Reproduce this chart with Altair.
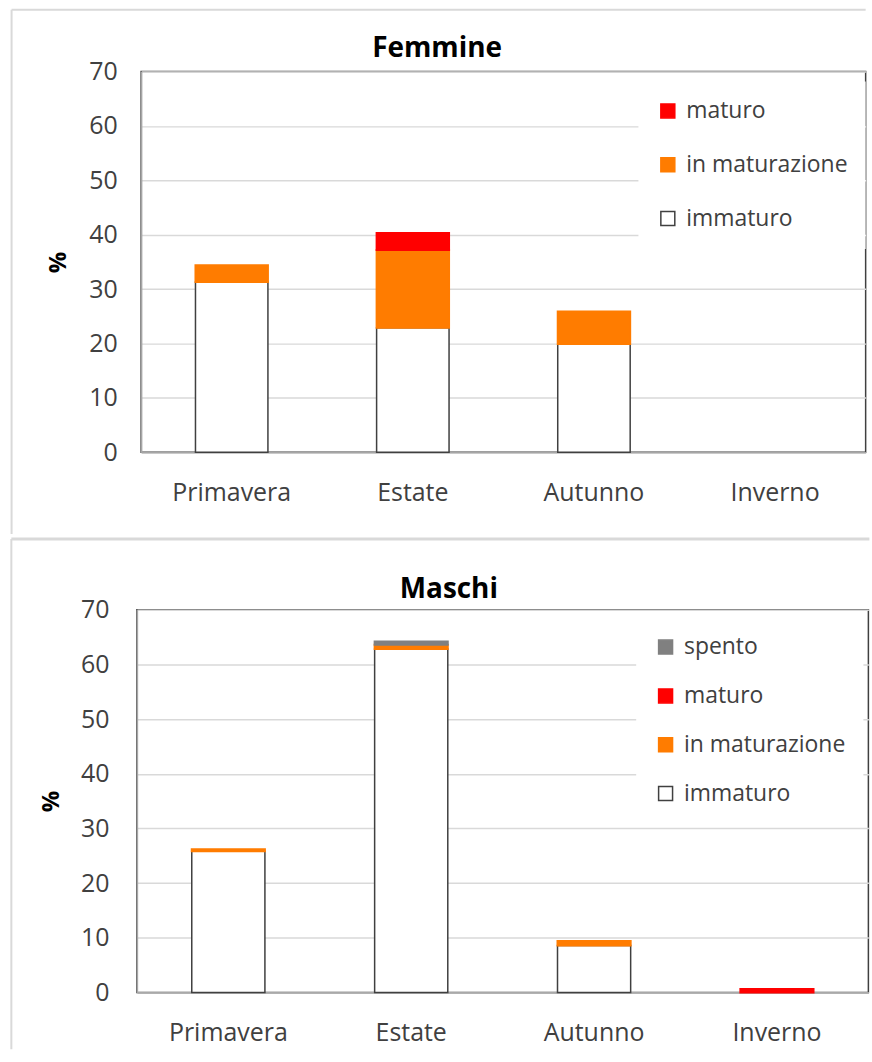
import altair as alt
import pandas as pd

stagioni = ["Primavera", "Estate", "Autunno", "Inverno"]

# Femmine: percentuali per stadio di maturità
fem_stati = ["immaturo", "in maturazione", "maturo"]
fem_immaturo = [31.3, 22.9, 19.9, 0.0]
fem_in_maturazione = [3.1, 14.3, 6.0, 0.0]
fem_maturo = [0.0, 3.1, 0.0, 0.0]

# Maschi: percentuali per stadio di maturità
mas_stati = ["immaturo", "in maturazione", "maturo", "spento"]
mas_immaturo = [25.8, 62.8, 8.6, 0.0]
mas_in_maturazione = [0.4, 0.8, 0.8, 0.0]
mas_maturo = [0.0, 0.0, 0.0, 0.6]
mas_spento = [0.0, 0.6, 0.0, 0.0]

fill_colori = {"immaturo": "#FFFFFF", "in maturazione": "#FF7C00",
               "maturo": "#FF0000", "spento": "#808080"}
bordo_colori = {"immaturo": "#404040", "in maturazione": "#FF7C00",
                "maturo": "#FF0000", "spento": "#808080"}

FONT = "Open Sans"
TESTO = "#404040"
CORNICE = "#D9D9D9"


def tabella(stati, serie):
    righe = []
    for ordine, (stato, valori) in enumerate(zip(stati, serie)):
        for stagione, v in zip(stagioni, valori):
            righe.append({"stagione": stagione, "stato": stato,
                          "valore": v, "ordine": ordine})
    return pd.DataFrame(righe)


def pannello(df, stati, titolo, w, h, label_pad, title_x, tit_x, tit_y,
             leg_x, leg_y, row_pad, fr_left, fr_top, fr_bottom, fr_right,
             spessore_top):
    dominio = list(reversed(stati))
    legenda = alt.Legend(
        title=None, orient="none", legendX=leg_x, legendY=leg_y,
        symbolType="square", symbolSize=196, symbolStrokeWidth=1.5,
        labelFont=FONT, labelFontSize=23, labelColor=TESTO, labelOffset=7,
        labelLimit=400, rowPadding=row_pad, padding=18, fillColor="white",
    )
    barre = alt.Chart(df).transform_filter("datum.valore > 0").mark_bar().encode(
        x=alt.X("stagione:N",
                scale=alt.Scale(domain=stagioni, paddingInner=0.6, paddingOuter=0.3),
                axis=alt.Axis(title=None, ticks=False, labelAngle=0,
                              labelFont=FONT, labelFontSize=25, labelColor=TESTO,
                              labelPadding=28, domainColor="#A6A6A6",
                              domainWidth=1.5, grid=False)),
        y=alt.Y("valore:Q", stack="zero",
                scale=alt.Scale(domain=[0, 70], nice=False),
                axis=alt.Axis(values=list(range(0, 71, 10)), title="%",
                              ticks=False, labelFont=FONT, labelFontSize=25,
                              labelColor=TESTO, labelPadding=label_pad,
                              domainColor="#A6A6A6", domainWidth=1.5,
                              gridColor="#D9D9D9", gridWidth=1.5,
                              titleFont=FONT, titleFontSize=24,
                              titleFontWeight="bold", titleColor="#000000",
                              titleX=title_x, titleY=h / 2,
                              titleBaseline="middle", titleAlign="center")),
        fill=alt.Fill("stato:N",
                      scale=alt.Scale(domain=dominio,
                                      range=[fill_colori[s] for s in dominio]),
                      legend=legenda),
        stroke=alt.Stroke("stato:N",
                          scale=alt.Scale(domain=dominio,
                                          range=[bordo_colori[s] for s in dominio]),
                          legend=legenda),
        strokeWidth=alt.condition("datum.stato === 'immaturo'",
                                  alt.value(1.5), alt.value(2)),
        order=alt.Order("ordine:Q"),
    )

    uno = pd.DataFrame({"titolo": [titolo]})
    testo_titolo = alt.Chart(uno).mark_text(
        font=FONT, fontSize=28, fontWeight="bold", color="#000000",
        align="center", baseline="alphabetic",
    ).encode(text="titolo:N", x=alt.value(tit_x), y=alt.value(tit_y))

    # cornice dell'area del grafico
    linee = [
        alt.Chart(uno).mark_rule(color=CORNICE, strokeWidth=2).encode(
            x=alt.value(fr_left), y=alt.value(fr_top), y2=alt.value(fr_bottom)),
        alt.Chart(uno).mark_rule(color=CORNICE, strokeWidth=spessore_top).encode(
            x=alt.value(fr_left), x2=alt.value(fr_right), y=alt.value(fr_top)),
    ]

    return alt.layer(*linee, barre, testo_titolo).properties(width=w, height=h)


femmine = pannello(
    tabella(fem_stati, [fem_immaturo, fem_in_maturazione, fem_maturo]),
    fem_stati, "Femmine", w=727, h=382, label_pad=24, title_x=-83,
    tit_x=297, tit_y=-15, leg_x=499, leg_y=10, row_pad=30,
    fr_left=-130, fr_top=-62, fr_bottom=464, fr_right=727, spessore_top=2)

maschi = pannello(
    tabella(mas_stati, [mas_immaturo, mas_in_maturazione, mas_maturo, mas_spento]),
    mas_stati, "Maschi", w=734, h=384, label_pad=28, title_x=-86,
    tit_x=313, tit_y=-12, leg_x=501, leg_y=8, row_pad=25,
    fr_left=-126, fr_top=-71, fr_bottom=441, fr_right=735, spessore_top=3)

chart = alt.vconcat(femmine, maschi, spacing=0, center=True).resolve_scale(
    fill="independent", stroke="independent", x="independent", y="independent"
).resolve_legend(fill="independent", stroke="independent").properties(
    padding={"left": 9, "top": 6, "right": 0, "bottom": 0},
    background="white",
).configure_view(stroke="#404040", strokeWidth=1.5)

chart.save("out.html", embed_options={"renderer": "svg", "actions": False})
